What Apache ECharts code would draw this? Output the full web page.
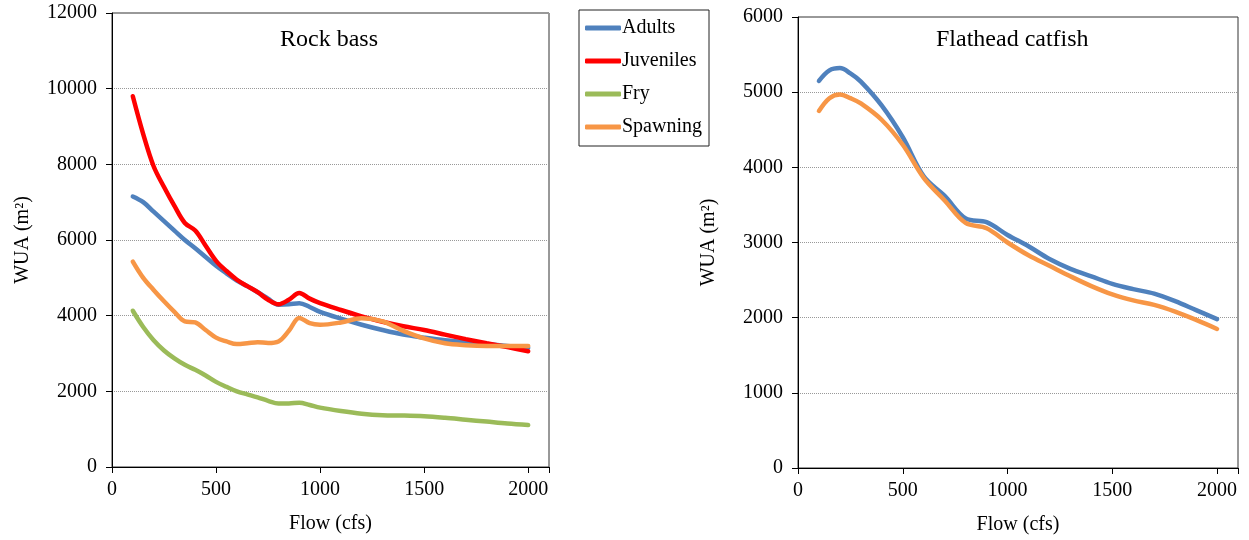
<!DOCTYPE html>
<html>
<head>
<meta charset="utf-8">
<script src="https://cdn.jsdelivr.net/npm/echarts@6/dist/echarts.min.js"></script>
<style>
  html, body { margin: 0; padding: 0; background: #fff; }
  #chart { width: 1249px; height: 540px; }
</style>
</head>
<body>
<div id="chart"></div>
<script>
// Rock bass (left panel)
const rockFlow = [100, 150, 200, 250, 300, 350, 400, 450, 500, 550, 600, 650, 700, 750, 800, 850, 900, 950,
    1000, 1100, 1200, 1300, 1400, 1500, 1600, 1700, 1800, 1900, 2000];
const rockAdults = [7150, 7000, 6750, 6500, 6250, 6000, 5780, 5550, 5320, 5120, 4930, 4780, 4620, 4450, 4290, 4300, 4330, 4230,
    4100, 3920, 3760, 3620, 3500, 3420, 3350, 3300, 3250, 3200, 3150];
const rockJuveniles = [9800, 8800, 7950, 7400, 6900, 6450, 6250, 5850, 5450, 5180, 4950, 4780, 4620, 4420, 4300, 4420, 4600, 4450,
    4330, 4150, 3980, 3840, 3720, 3620, 3500, 3380, 3270, 3170, 3060];
const rockFry = [4130, 3700, 3350, 3080, 2870, 2700, 2570, 2420, 2250, 2120, 2000, 1920, 1840, 1750, 1680, 1680, 1700, 1640,
    1570, 1480, 1410, 1370, 1360, 1340, 1300, 1250, 1200, 1150, 1110];
const rockSpawning = [5430, 5000, 4680, 4380, 4100, 3850, 3820, 3620, 3420, 3320, 3250, 3270, 3300, 3280, 3320, 3600, 3940, 3800,
    3760, 3820, 3930, 3850, 3600, 3400, 3270, 3220, 3200, 3200, 3200];

// Flathead catfish (right panel)
const catFlow = [100, 150, 200, 250, 300, 400, 500, 600, 700, 800, 900,
    1000, 1100, 1200, 1300, 1400, 1500, 1600, 1700, 1800, 1900, 2000];
const catAdults = [5150, 5290, 5320, 5250, 5140, 4820, 4400, 3880, 3620, 3320, 3270,
    3100, 2950, 2780, 2650, 2550, 2450, 2380, 2320, 2220, 2100, 1980];
const catSpawning = [4750, 4920, 4970, 4920, 4850, 4630, 4300, 3860, 3560, 3260, 3190,
    3000, 2830, 2690, 2550, 2420, 2310, 2230, 2170, 2080, 1970, 1850];

const xTicks = [0, 500, 1000, 1500, 2000];
const seriesNames = ["Adults", "Juveniles", "Fry", "Spawning"];
const colors = { Adults: "#4F81BD", Juveniles: "#FF0000", Fry: "#9BBB59", Spawning: "#F79646" };

const FONT = "'Liberation Serif', 'Times New Roman', serif";

const pairs = (xs, ys) => xs.map((x, i) => [x, ys[i]]);

function line(name, xs, ys, idx) {
    return {
        name: name,
        type: "line",
        xAxisIndex: idx,
        yAxisIndex: idx,
        data: pairs(xs, ys),
        smooth: 0.35,
        showSymbol: false,
        lineStyle: { width: 4.5, color: colors[name], cap: "round" },
        itemStyle: { color: colors[name] },
        z: 2
    };
}

function xAxis(idx) {
    return {
        type: "value",
        gridIndex: idx,
        min: 0,
        max: 2100,
        interval: 500,
        name: "Flow (cfs)",
        nameLocation: "middle",
        nameGap: 47,
        nameTextStyle: { fontFamily: FONT, fontSize: 20, color: "#000" },
        axisLine: { show: true, onZero: false, lineStyle: { color: "#000", width: 1 } },
        axisTick: { show: true, length: 6, lineStyle: { color: "#000" } },
        axisLabel: {
            fontFamily: FONT, fontSize: 20, color: "#000", margin: 13,
            formatter: v => (xTicks.indexOf(v) >= 0 ? String(v) : "")
        },
        splitLine: { show: false }
    };
}

function yAxis(idx, max, step) {
    return {
        type: "value",
        gridIndex: idx,
        min: 0,
        max: max,
        interval: step,
        name: "WUA (m²)",
        nameLocation: "middle",
        nameGap: 79,
        nameTextStyle: { fontFamily: FONT, fontSize: 20, color: "#000" },
        axisLine: { show: true, lineStyle: { color: "#000", width: 1 } },
        axisTick: { show: true, length: 6, lineStyle: { color: "#000" } },
        axisLabel: { fontFamily: FONT, fontSize: 20, color: "#000", margin: 15, formatter: v => String(v) },
        splitLine: { show: true, lineStyle: { color: "#999", type: "dotted", width: 1 } }
    };
}

const chart = echarts.init(document.getElementById("chart"), null, { renderer: "canvas" });

chart.setOption({
    animation: false,
    backgroundColor: "#fff",
    grid: [
        { left: 112, top: 13, right: 700, bottom: 73, show: true, borderColor: "#333", borderWidth: 1, backgroundColor: "transparent" },
        { left: 798, top: 17, right: 11, bottom: 72, show: true, borderColor: "#333", borderWidth: 1, backgroundColor: "transparent" }
    ],
    xAxis: [xAxis(0), xAxis(1)],
    yAxis: [yAxis(0, 12000, 2000), yAxis(1, 6000, 1000)],
    legend: {
        data: seriesNames,
        orient: "vertical",
        left: 579,
        top: 10,
        icon: "roundRect",
        itemWidth: 36,
        itemHeight: 5,
        itemGap: 13,
        padding: [8, 7, 9, 6],
        borderColor: "#222",
        borderWidth: 1,
        selectedMode: false,
        textStyle: { fontFamily: FONT, fontSize: 20, color: "#000", lineHeight: 20, padding: [0, 0, 0, -4] }
    },
    graphic: [
        {
            type: "text", left: 280, top: 28,
            style: { text: "Rock bass", font: "24px " + FONT, fill: "#000" }
        },
        {
            type: "text", left: 936, top: 28,
            style: { text: "Flathead catfish", font: "24px " + FONT, fill: "#000" }
        }
    ],
    series: [
        line("Adults", rockFlow, rockAdults, 0),
        line("Juveniles", rockFlow, rockJuveniles, 0),
        line("Fry", rockFlow, rockFry, 0),
        line("Spawning", rockFlow, rockSpawning, 0),
        line("Adults", catFlow, catAdults, 1),
        line("Spawning", catFlow, catSpawning, 1)
    ]
});
</script>
</body>
</html>
